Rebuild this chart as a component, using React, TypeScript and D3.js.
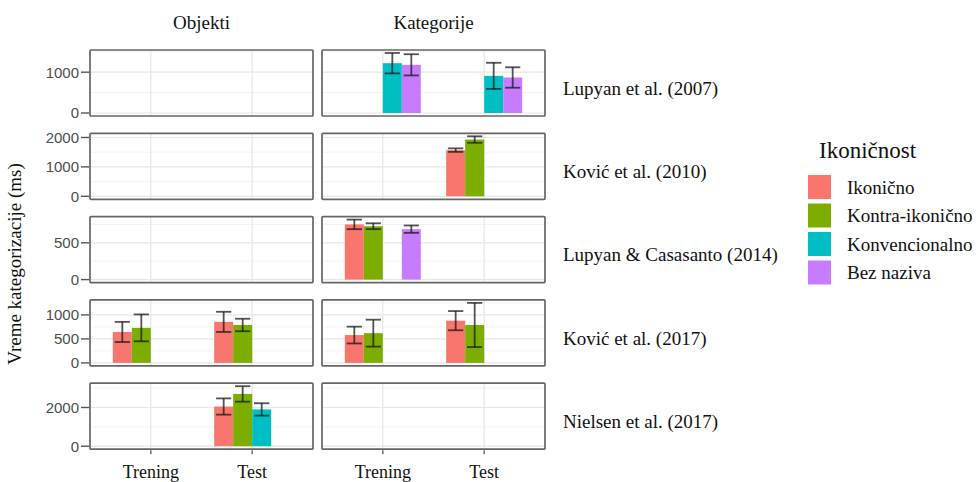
import React from "react";
import * as d3 from "d3";

// Facets, phases and fill levels
const studies = [
  "Lupyan et al. (2007)",
  "Ković et al. (2010)",
  "Lupyan & Casasanto (2014)",
  "Ković et al. (2017)",
  "Nielsen et al. (2017)",
];
const facets = ["Objekti", "Kategorije"];
const phases = ["Trening", "Test"];
const series = ["Ikonično", "Kontra-ikonično", "Konvencionalno", "Bez naziva"];
const seriesColors = ["#F8766D", "#7CAE00", "#00BFC4", "#C77CFF"];

// y-axis breaks per study row
const yBreaks = [
  [0, 1000],
  [0, 1000, 2000],
  [0, 500],
  [0, 500, 1000],
  [0, 2000],
];

// [facet, phase, series, mean, error]
const lupyan2007 = [
  ["Kategorije", "Trening", "Konvencionalno", 1220, 250],
  ["Kategorije", "Trening", "Bez naziva", 1180, 260],
  ["Kategorije", "Test", "Konvencionalno", 910, 320],
  ["Kategorije", "Test", "Bez naziva", 870, 250],
];
const kovic2010 = [
  ["Kategorije", "Test", "Ikonično", 1570, 60],
  ["Kategorije", "Test", "Kontra-ikonično", 1930, 110],
];
const lupyanCasasanto2014 = [
  ["Kategorije", "Trening", "Ikonično", 750, 65],
  ["Kategorije", "Trening", "Kontra-ikonično", 725, 40],
  ["Kategorije", "Trening", "Bez naziva", 685, 50],
];
const kovic2017 = [
  ["Objekti", "Trening", "Ikonično", 645, 210],
  ["Objekti", "Trening", "Kontra-ikonično", 730, 280],
  ["Objekti", "Test", "Ikonično", 855, 210],
  ["Objekti", "Test", "Kontra-ikonično", 790, 130],
  ["Kategorije", "Trening", "Ikonično", 580, 175],
  ["Kategorije", "Trening", "Kontra-ikonično", 620, 280],
  ["Kategorije", "Test", "Ikonično", 880, 200],
  ["Kategorije", "Test", "Kontra-ikonično", 790, 460],
];
const nielsen2017 = [
  ["Objekti", "Test", "Ikonično", 2050, 420],
  ["Objekti", "Test", "Kontra-ikonično", 2700, 400],
  ["Objekti", "Test", "Konvencionalno", 1900, 320],
];
const studyData: any[][] = [lupyan2007, kovic2010, lupyanCasasanto2014, kovic2017, nielsen2017];

const W = 976;
const H = 482;
const panelLeft = 90;
const panelW = 223;
const panelGap = 9;
const panelTop = 50;
const panelH = 66;
const rowStep = 83.3;

const serif = "'Liberation Serif', 'Times New Roman', serif";
const sans = "'Liberation Sans', Arial, sans-serif";

export default function App() {
  const color = d3.scaleOrdinal<string, string>().domain(series).range(seriesColors);
  const x = d3.scalePoint<string>().domain(phases).range([0, panelW]).padding(0.6);
  const step = x.step();
  const dodge = d3.scaleBand<string>().domain(series).range([-0.375 * step, 0.375 * step]);

  return (
    <svg width={W} height={H} style={{ position: "absolute", left: 0, top: 0, background: "#fff" }}>
      {facets.map((f, fi) => (
        <text key={f} x={panelLeft + fi * (panelW + panelGap) + panelW / 2} y={29}
          textAnchor="middle" fontFamily={serif} fontSize={19} fill="#111">{f}</text>
      ))}

      {studies.map((s, si) => {
        const top = panelTop + si * rowStep;
        const rows = studyData[si];
        const maxVal = d3.max(rows, (r: any) => r[3] + r[4]) as number;
        const pad = maxVal * 0.05;
        const y = d3.scaleLinear().domain([-pad, maxVal + pad]).range([top + panelH, top]);
        const breaks = yBreaks[si];
        const bstep = breaks[1] - breaks[0];
        const minors: number[] = [];
        for (let v = breaks[0] - bstep / 2; v <= maxVal + pad; v += bstep) {
          if (v >= -pad) minors.push(v);
        }
        return (
          <g key={s}>
            {/* y axis */}
            {breaks.map((b) => (
              <g key={b}>
                <line x1={panelLeft - 9} x2={panelLeft - 1} y1={y(b)} y2={y(b)} stroke="#555" strokeWidth={1.4} />
                <text x={panelLeft - 11} y={y(b)} dy="0.36em" textAnchor="end"
                  fontFamily={sans} fontSize={15} fill="#4d4d4d">{b}</text>
              </g>
            ))}
            {facets.map((f, fi) => {
              const left = panelLeft + fi * (panelW + panelGap);
              const cells = rows.filter((r: any) => r[0] === f);
              return (
                <g key={f} transform={`translate(${left},0)`}>
                  {minors.map((m) => (
                    <line key={"m" + m} x1={0} x2={panelW} y1={y(m)} y2={y(m)} stroke="#f2f2f2" strokeWidth={1} />
                  ))}
                  {breaks.map((b) => (
                    <line key={"b" + b} x1={0} x2={panelW} y1={y(b)} y2={y(b)} stroke="#e6e6e6" strokeWidth={1.2} />
                  ))}
                  {phases.map((p) => (
                    <line key={p} x1={x(p)} x2={x(p)} y1={top} y2={top + panelH} stroke="#e6e6e6" strokeWidth={1.2} />
                  ))}
                  {cells.map((r: any) => {
                    const cx = (x(r[1]) as number) + (dodge(r[2]) as number);
                    const bw = dodge.bandwidth();
                    const mid = cx + bw / 2;
                    const cap = bw * 0.4;
                    return (
                      <g key={r[1] + r[2]}>
                        <rect x={cx} y={y(r[3])} width={bw} height={y(0) - y(r[3])} fill={color(r[2])} />
                        <g stroke="#1a1a1a" strokeOpacity={0.75} strokeWidth={1.8}>
                          <line x1={mid} x2={mid} y1={y(r[3] - r[4])} y2={y(r[3] + r[4])} />
                          <line x1={mid - cap} x2={mid + cap} y1={y(r[3] - r[4])} y2={y(r[3] - r[4])} />
                          <line x1={mid - cap} x2={mid + cap} y1={y(r[3] + r[4])} y2={y(r[3] + r[4])} />
                        </g>
                      </g>
                    );
                  })}
                  <rect x={0} y={top} width={panelW} height={panelH} fill="none" stroke="#666" strokeWidth={1.7} rx={1} />
                </g>
              );
            })}
            <text x={563} y={top + panelH / 2 + 5} dy="0.35em" fontFamily={serif} fontSize={19} fill="#111">{s}</text>
          </g>
        );
      })}

      {/* bottom x axis */}
      {facets.map((f, fi) => {
        const left = panelLeft + fi * (panelW + panelGap);
        const bottom = panelTop + 4 * rowStep + panelH;
        return (
          <g key={f} transform={`translate(${left},${bottom})`}>
            {phases.map((p) => (
              <g key={p}>
                <line x1={x(p)} x2={x(p)} y1={1} y2={5} stroke="#555" strokeWidth={1.3} />
                <text x={x(p)} y={29} textAnchor="middle" fontFamily={serif} fontSize={18} fill="#111">{p}</text>
              </g>
            ))}
          </g>
        );
      })}

      <text transform={`translate(21,${264}) rotate(-90)`} textAnchor="middle"
        fontFamily={serif} fontSize={19} fill="#111">Vreme kategorizacije (ms)</text>

      {/* legend */}
      <text x={819} y={158} fontFamily={serif} fontSize={23} fill="#111">Ikoničnost</text>
      {series.map((s, i) => (
        <g key={s} transform={`translate(808,${175 + i * 28.5})`}>
          <rect x={0} y={0} width={23} height={24} fill={color(s)} />
          <text x={39} y={12} dy="0.35em" fontFamily={serif} fontSize={19} fill="#111">{s}</text>
        </g>
      ))}
    </svg>
  );
}
